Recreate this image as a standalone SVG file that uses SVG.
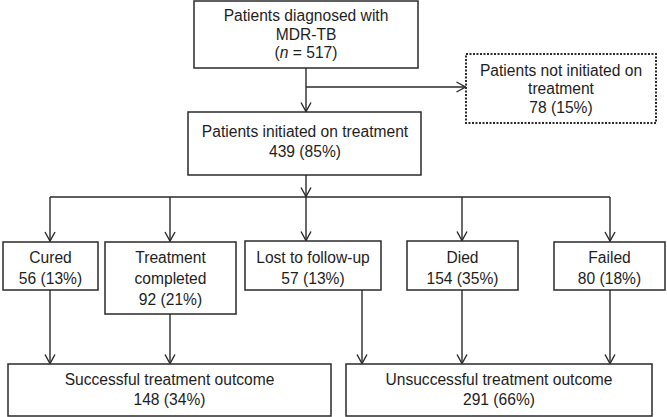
<svg xmlns="http://www.w3.org/2000/svg" width="667" height="417" viewBox="0 0 667 417">
<style>
.box{fill:#fff;stroke:#2a2a2a;stroke-width:1.5}
.dot{fill:#fff;stroke:#2a2a2a;stroke-width:2;stroke-dasharray:2 1.5}
text{font-family:"Liberation Sans",Arial,sans-serif;font-size:15.6px;fill:#1e1e1e;text-anchor:middle}
.ln{fill:none;stroke:#2a2a2a;stroke-width:1.4}
.ar{fill:none;stroke:#2a2a2a;stroke-width:1.4;marker-end:url(#ah)}
</style>
<defs>
<marker id="ah" markerUnits="userSpaceOnUse" markerWidth="14" markerHeight="14" viewBox="0 0 14 14" refX="12" refY="7" orient="auto">
<path d="M3,2 L12,7 L3,12" fill="none" stroke="#2a2a2a" stroke-width="1.4"/>
</marker>
</defs>
<rect width="667" height="417" fill="#fff"/>
<g id="connectors">
<path class="ar" d="M306,68 V111.5"/>
<path class="ar" d="M306,87 H465.5"/>
<path class="ar" d="M306,175 V196.5"/>
<path class="ln" d="M50,197 H610"/>
<path class="ar" d="M50,197 V241"/>
<path class="ar" d="M170,197 V241"/>
<path class="ar" d="M306,197 V240.5"/>
<path class="ar" d="M462,197 V240.5"/>
<path class="ar" d="M610,197 V241"/>
<path class="ar" d="M50,290 V363.5"/>
<path class="ar" d="M170,314 V363.5"/>
<path class="ar" d="M362,290 V363.5"/>
<path class="ar" d="M462,290 V363.5"/>
<path class="ar" d="M610,290 V363.5"/>
</g>
<g id="diagnosed">
<rect class="box" x="194" y="1" width="224" height="67"/>
<text x="306" y="21">Patients diagnosed with</text>
<text x="306" y="39.5">MDR-TB</text>
<text x="306" y="58">(<tspan font-style="italic">n</tspan> = 517)</text>
</g>
<g id="not-initiated">
<rect class="dot" x="466" y="54" width="190" height="69"/>
<text x="561" y="75.5">Patients not initiated on</text>
<text x="561" y="94">treatment</text>
<text x="561" y="112.5">78 (15%)</text>
</g>
<g id="initiated">
<rect class="box" x="188" y="112" width="233" height="63"/>
<text x="305" y="137">Patients initiated on treatment</text>
<text x="305" y="156.5">439 (85%)</text>
</g>
<g id="cured">
<rect class="box" x="3" y="242" width="95" height="48"/>
<text x="50.5" y="263">Cured</text>
<text x="50.5" y="284">56 (13%)</text>
</g>
<g id="completed">
<rect class="box" x="105" y="242" width="131" height="72"/>
<text x="170.5" y="263">Treatment</text>
<text x="170.5" y="284">completed</text>
<text x="170.5" y="305">92 (21%)</text>
</g>
<g id="lost">
<rect class="box" x="245" y="241" width="136" height="49"/>
<text x="313" y="263">Lost to follow-up</text>
<text x="313" y="284">57 (13%)</text>
</g>
<g id="died">
<rect class="box" x="407" y="241" width="111" height="49"/>
<text x="462.5" y="263">Died</text>
<text x="462.5" y="284">154 (35%)</text>
</g>
<g id="failed">
<rect class="box" x="554" y="242" width="111" height="48"/>
<text x="609.5" y="263">Failed</text>
<text x="609.5" y="284">80 (18%)</text>
</g>
<g id="successful">
<rect class="box" x="8" y="364" width="323" height="52"/>
<text x="169.5" y="384.5">Successful treatment outcome</text>
<text x="169.5" y="404.5">148 (34%)</text>
</g>
<g id="unsuccessful">
<rect class="box" x="346" y="364" width="306" height="52"/>
<text x="499" y="384.5">Unsuccessful treatment outcome</text>
<text x="499" y="404.5">291 (66%)</text>
</g>
</svg>
